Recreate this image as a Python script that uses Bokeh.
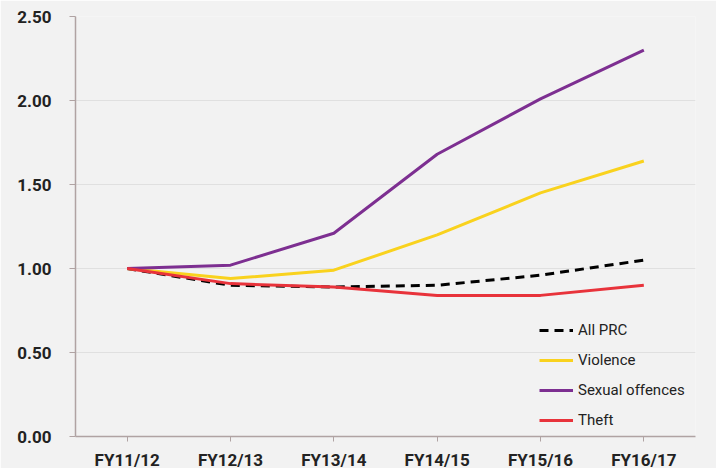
import re
from bokeh.plotting import figure
from bokeh.models import FixedTicker, Legend, LegendItem, CustomJSTickFormatter
from bokeh.embed import file_html
from bokeh.resources import INLINE

years = ["FY11/12", "FY12/13", "FY13/14", "FY14/15", "FY15/16", "FY16/17"]
all_prc = [1.00, 0.90, 0.89, 0.90, 0.96, 1.05]
violence = [1.00, 0.94, 0.99, 1.20, 1.45, 1.64]
sexual = [1.00, 1.02, 1.21, 1.68, 2.01, 2.30]
theft = [1.00, 0.91, 0.89, 0.84, 0.84, 0.90]
y_ticks = [0.0, 0.5, 1.0, 1.5, 2.0, 2.5]

bg = "#f2f2f2"
FONT = "Roboto"
p = figure(x_range=years, y_range=(0, 2.5), frame_width=620, frame_height=420,
           width=716, height=468, min_border_left=75, min_border_right=21,
           min_border_top=16, min_border_bottom=32,
           output_backend="svg", toolbar_location=None)
p.background_fill_color = bg
p.border_fill_color = bg
p.outline_line_color = None
p.x_range.range_padding = 0

p.xgrid.grid_line_color = None
p.ygrid.grid_line_color = "#e0e0e0"
p.ygrid.grid_line_width = 1
p.yaxis.ticker = FixedTicker(ticks=y_ticks)
p.yaxis.formatter = CustomJSTickFormatter(code="return tick.toFixed(2);")
p.yaxis.minor_tick_line_color = None

for ax in (p.xaxis[0], p.yaxis[0]):
    ax.axis_line_color = "#b0a3a3"
    ax.axis_line_width = 1.5
    ax.major_tick_line_color = "#b0a3a3"
    ax.major_label_text_font = FONT
    ax.major_label_text_font_style = "bold"
    ax.major_label_text_color = "#222222"
    ax.major_label_text_font_size = "17px"

p.yaxis.major_tick_out = 6
p.yaxis.major_tick_in = 0
p.yaxis.major_label_standoff = 18
p.xaxis.major_tick_out = 5
p.xaxis.major_tick_in = 0
p.xaxis.major_label_standoff = 8

r_all = p.line(years, all_prc, line_color="#000000", line_width=3, line_dash="9 6")
r_vio = p.line(years, violence, line_color="#f9d21e", line_width=3)
r_sex = p.line(years, sexual, line_color="#7d2f91", line_width=3)
r_th = p.line(years, theft, line_color="#e8333b", line_width=3)

legend = Legend(items=[
    LegendItem(label="All PRC", renderers=[r_all]),
    LegendItem(label="Violence", renderers=[r_vio]),
    LegendItem(label="Sexual offences", renderers=[r_sex]),
    LegendItem(label="Theft", renderers=[r_th]),
], location=(464, 6))
legend.background_fill_alpha = 0
legend.border_line_color = None
legend.glyph_width = 34
legend.glyph_height = 20
legend.spacing = 10
legend.padding = 4
legend.margin = 0
legend.label_text_font = FONT
legend.label_text_font_size = "15px"
legend.label_text_color = "#222222"
legend.label_standoff = 5
p.add_layout(legend, "center")

html = file_html(p, INLINE)
html = re.sub(r"<body([^>]*)>", r'<body\1 style="margin:0;background-color:#d0d0d0;">', html, count=1)
open("out.html", "w").write(html)
